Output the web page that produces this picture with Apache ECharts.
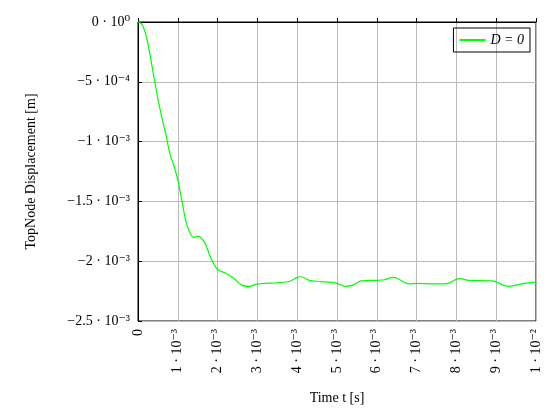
<!DOCTYPE html>
<html><head><meta charset="utf-8">
<script src="https://cdn.jsdelivr.net/npm/echarts@6/dist/echarts.min.js"></script>
<style>html,body{margin:0;padding:0;background:#fff}#c{width:553px;height:417px}</style>
</head><body><div id="c"></div>
<script>
const times = [0,0.1,0.2,0.3,0.4,0.5,0.6,0.7,0.8,0.9,1.0,1.1,1.2,1.3,1.4,1.5,1.6,1.7,1.8,1.9,2.0,2.2,2.4,2.6,2.8,3.0,3.5,3.8,4.0,4.1,4.3,4.6,5.0,5.2,5.4,5.6,6.0,6.2,6.4,6.5,6.8,7.0,7.5,7.8,8.0,8.1,8.3,8.9,9.3,9.5,9.7,10.0]; // ms
const disp = [0,-0.02,-0.11,-0.27,-0.46,-0.64,-0.8,-0.94,-1.1,-1.2,-1.32,-1.49,-1.66,-1.76,-1.8,-1.79,-1.81,-1.86,-1.95,-2.02,-2.07,-2.1,-2.14,-2.2,-2.21,-2.19,-2.18,-2.17,-2.135,-2.13,-2.16,-2.17,-2.185,-2.21,-2.2,-2.165,-2.16,-2.155,-2.135,-2.14,-2.19,-2.185,-2.19,-2.185,-2.15,-2.145,-2.16,-2.165,-2.21,-2.2,-2.185,-2.175]; // 1e-3 m
const xTickLabels = ['0','1 · 10⁻³','2 · 10⁻³','3 · 10⁻³','4 · 10⁻³','5 · 10⁻³','6 · 10⁻³','7 · 10⁻³','8 · 10⁻³','9 · 10⁻³','1 · 10⁻²'];
const yTickLabels = {'0':'0 · 10⁰','-0.5':'−5 · 10⁻⁴','-1':'−1 · 10⁻³','-1.5':'−1.5 · 10⁻³','-2':'−2 · 10⁻³','-2.5':'−2.5 · 10⁻³'};
const F = 'Liberation Serif, DejaVu Serif, serif';
const chart = echarts.init(document.getElementById('c'));
chart.setOption({
  animation:false,
  textStyle:{fontFamily:F},
  grid:{left:138,right:17,top:22,bottom:96,show:true,borderColor:'#000',borderWidth:1},
  legend:{right:23,top:28,itemWidth:26,itemHeight:2,icon:'rect',borderColor:'#000',borderWidth:1,borderRadius:0,padding:[5,6],
    textStyle:{fontFamily:F,fontSize:14,fontStyle:'italic',color:'#000'},data:['D = 0']},
  xAxis:{type:'value',min:0,max:10,interval:1,name:'Time t [s]',nameLocation:'middle',nameGap:70,
    nameTextStyle:{fontFamily:F,fontSize:14,color:'#000'},
    axisLine:{lineStyle:{color:'#000'}},axisTick:{inside:true,length:4,lineStyle:{color:'#000'}},
    splitLine:{show:true,lineStyle:{color:'#bbb'}},
    axisLabel:{rotate:90,color:'#000',fontSize:14,fontFamily:F,formatter:v=>xTickLabels[Math.round(v)]}},
  yAxis:{type:'value',min:-2.5,max:0,interval:0.5,name:'TopNode Displacement [m]',nameLocation:'middle',nameGap:100,
    nameTextStyle:{fontFamily:F,fontSize:14,color:'#000'},
    axisLine:{show:true,lineStyle:{color:'#000'}},axisTick:{inside:true,length:4,lineStyle:{color:'#000'}},
    splitLine:{show:true,lineStyle:{color:'#bbb'}},
    axisLabel:{color:'#000',fontSize:14,fontFamily:F,formatter:v=>yTickLabels[String(Math.round(v*10)/10)]||''}},
  series:[{name:'D = 0',type:'line',smooth:0.3,showSymbol:false,lineStyle:{color:'#00ff00',width:1.2},itemStyle:{color:'#00ff00'},
    data:times.map((t,i)=>[t,disp[i]])}]
});
</script></body></html>
